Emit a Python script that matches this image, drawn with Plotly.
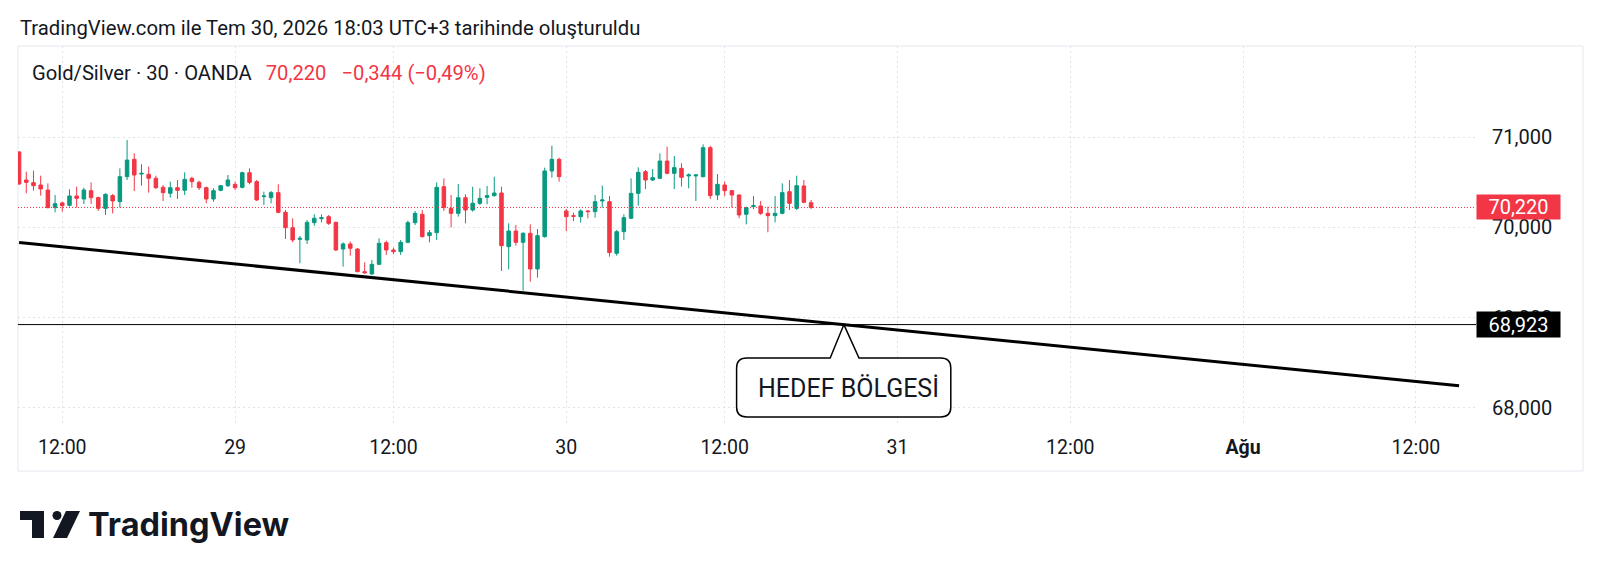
import pandas as pd
import plotly.graph_objects as go

# ---- Gold/Silver ratio, 30-minute bars (OANDA) ----
SESSIONS = [
    ("2026-07-28 09:00", "2026-07-28 23:30"),
    ("2026-07-29 01:00", "2026-07-29 23:30"),
    ("2026-07-30 01:00", "2026-07-30 18:00"),
]

OPEN = [70.835, 70.524, 70.495, 70.469, 70.413, 70.218, 70.270, 70.244, 70.347, 70.314,
        70.406, 70.329, 70.210, 70.351, 70.284, 70.561, 70.753, 70.590, 70.587, 70.543,
        70.443, 70.377, 70.439, 70.410, 70.543, 70.498, 70.439, 70.314, 70.410, 70.461,
        70.476, 70.443, 70.605, 70.506, 70.340, 70.329, 70.384, 70.166, 69.996, 69.867,
        69.860, 70.052, 70.096, 70.118, 70.055, 69.760, 69.816, 69.760, 69.509, 69.484,
        69.590, 69.830, 69.749, 69.731, 69.834, 70.052, 70.144, 69.908, 69.941, 70.450,
        70.210, 70.155, 70.328, 70.192, 70.266, 70.332, 70.351, 70.380, 69.786, 69.959,
        69.834, 69.934, 69.539, 69.897, 70.624, 70.753, 70.181, 70.129, 70.118, 70.181,
        70.174, 70.292, 70.284, 69.712, 69.952, 70.100, 70.376, 70.616, 70.524, 70.543,
        70.734, 70.598, 70.653, 70.569, 70.569, 70.561, 70.882, 70.358, 70.469, 70.406,
        70.358, 70.144, 70.229, 70.236, 70.155, 70.129, 70.155, 70.395, 70.210, 70.458,
        70.273]
HIGH = [70.840, 70.616, 70.627, 70.572, 70.487, 70.358, 70.284, 70.421, 70.450, 70.439,
        70.498, 70.340, 70.377, 70.369, 70.653, 70.967, 70.819, 70.698, 70.672, 70.572,
        70.469, 70.506, 70.524, 70.609, 70.561, 70.517, 70.450, 70.432, 70.469, 70.579,
        70.506, 70.616, 70.653, 70.524, 70.395, 70.402, 70.476, 70.192, 70.100, 69.904,
        70.081, 70.144, 70.144, 70.137, 70.063, 69.834, 69.842, 69.768, 69.613, 69.638,
        69.878, 69.853, 69.775, 69.860, 70.074, 70.181, 70.192, 69.970, 70.498, 70.542,
        70.358, 70.480, 70.365, 70.450, 70.432, 70.458, 70.561, 70.450, 70.044, 70.026,
        69.945, 70.033, 69.981, 70.661, 70.904, 70.771, 70.203, 70.162, 70.199, 70.192,
        70.358, 70.461, 70.347, 69.970, 70.144, 70.542, 70.664, 70.635, 70.646, 70.819,
        70.893, 70.790, 70.709, 70.598, 70.587, 70.919, 70.904, 70.590, 70.506, 70.413,
        70.365, 70.229, 70.347, 70.292, 70.229, 70.347, 70.487, 70.524, 70.572, 70.524,
        70.303]
LOW = [70.470, 70.377, 70.406, 70.351, 70.210, 70.166, 70.174, 70.229, 70.218, 70.258,
       70.258, 70.181, 70.137, 70.155, 70.218, 70.524, 70.402, 70.461, 70.384, 70.425,
       70.292, 70.329, 70.314, 70.358, 70.439, 70.413, 70.266, 70.284, 70.399, 70.447,
       70.413, 70.432, 70.476, 70.292, 70.247, 70.266, 70.155, 69.871, 69.834, 69.602,
       69.816, 70.018, 70.055, 70.026, 69.738, 69.565, 69.686, 69.502, 69.484, 69.472,
       69.583, 69.694, 69.701, 69.694, 69.823, 70.026, 69.886, 69.834, 69.860, 70.181,
       69.999, 70.118, 70.044, 70.174, 70.247, 70.255, 70.340, 69.517, 69.535, 69.797,
       69.299, 69.398, 69.443, 69.886, 70.550, 70.506, 69.959, 70.070, 70.052, 70.100,
       70.107, 70.218, 69.675, 69.686, 69.860, 70.092, 70.240, 70.424, 70.513, 70.535,
       70.587, 70.424, 70.450, 70.432, 70.292, 70.553, 70.314, 70.303, 70.347, 70.218,
       70.100, 70.033, 70.203, 70.137, 69.945, 70.055, 70.144, 70.192, 70.192, 70.266,
       70.203]
CLOSE = [70.480, 70.498, 70.461, 70.425, 70.218, 70.262, 70.240, 70.347, 70.321, 70.413,
         70.329, 70.210, 70.365, 70.292, 70.561, 70.745, 70.579, 70.598, 70.543, 70.439,
         70.384, 70.439, 70.410, 70.531, 70.506, 70.439, 70.314, 70.406, 70.461, 70.524,
         70.439, 70.605, 70.498, 70.303, 70.347, 70.384, 70.166, 69.996, 69.860, 69.878,
         70.055, 70.100, 70.107, 70.044, 69.749, 69.816, 69.768, 69.509, 69.498, 69.590,
         69.823, 69.749, 69.731, 69.834, 70.052, 70.155, 69.897, 69.941, 70.443, 70.218,
         70.155, 70.328, 70.192, 70.266, 70.321, 70.351, 70.380, 69.797, 69.959, 69.834,
         69.934, 69.539, 69.908, 70.624, 70.753, 70.561, 70.118, 70.122, 70.181, 70.174,
         70.284, 70.303, 69.720, 69.952, 70.107, 70.376, 70.609, 70.524, 70.550, 70.734,
         70.598, 70.661, 70.554, 70.580, 70.580, 70.882, 70.351, 70.476, 70.406, 70.358,
         70.137, 70.218, 70.240, 70.155, 70.129, 70.155, 70.384, 70.266, 70.461, 70.277,
         70.220]
PREV_CLOSE = 70.564

# time-scale labels
TICK_TIMES = ["2026-07-28 12:00", "2026-07-29 01:00", "2026-07-29 12:00", "2026-07-30 01:00",
              "2026-07-30 12:00", "2026-07-31 00:00", "2026-07-31 12:00", "2026-08-01 00:00",
              "2026-08-01 12:00"]
TICK_TEXT = ["12:00", "29", "12:00", "30", "12:00", "31", "12:00", "<b>Ağu</b>", "12:00"]
PRICE_TICKS = [68.0, 69.0, 70.0, 71.0]

# drawings
TREND = [("2026-07-28 09:00", 69.832), ("2026-08-01 15:00", 68.245)]
TARGET_LEVEL = 68.923
CALLOUT_TEXT = "HEDEF BÖLGESİ"

GREEN = "#089981"
RED = "#F23645"
INK = "#131722"
GRID = "#E0E3EA"
FONT = "Roboto"

# ---- bar index axis (bars are evenly spaced, session breaks skipped) ----
bar_times = pd.DatetimeIndex([])
for start, end in SESSIONS:
    bar_times = bar_times.append(pd.date_range(start, end, freq="30min"))
STEP = pd.Timedelta("30min")


def slot(ts):
    t = pd.Timestamp(ts)
    if t <= bar_times[-1]:
        return float(bar_times.searchsorted(t))
    return (len(bar_times) - 1) + (t - bar_times[-1]) / STEP


xs = list(range(len(bar_times)))

# ---- pixel frame of the pane ----
W, H = 1600, 573
PL, PR, PT, PB = 18, 1476, 46, 425


def px(x):
    return (x - PL) / (PR - PL)


def py(y):
    return (PB - y) / (PB - PT)


def fmt(v, nd=3):
    s = f"{abs(v):.{nd}f}".replace(".", ",")
    return ("\u2212" + s) if v < 0 else s


fig = go.Figure()

fig.add_trace(go.Candlestick(
    x=xs, open=OPEN, high=HIGH, low=LOW, close=CLOSE,
    increasing=dict(line=dict(color=GREEN, width=1), fillcolor=GREEN),
    decreasing=dict(line=dict(color=RED, width=1), fillcolor=RED),
    whiskerwidth=0, hoverinfo="skip", showlegend=False,
))

# trend line
tx = [slot(t) for t, _ in TREND]
ty = [p for _, p in TREND]
fig.add_trace(go.Scatter(x=tx, y=ty, mode="lines",
                         line=dict(color="#000000", width=3),
                         hoverinfo="skip", showlegend=False))

last = CLOSE[-1]
change = last - PREV_CLOSE
pct = change / PREV_CLOSE * 100

shapes = []
# last price dotted line
shapes.append(dict(type="line", xref="paper", yref="y", x0=0, x1=1, y0=last, y1=last,
                   line=dict(color=RED, width=1, dash="1px,2px"), layer="above"))
# target horizontal level
shapes.append(dict(type="line", xref="paper", yref="y", x0=0, x1=1,
                   y0=TARGET_LEVEL, y1=TARGET_LEVEL,
                   line=dict(color="#000000", width=1), layer="above"))

# speech bubble pointing at the trend line / level crossing
slope = (ty[1] - ty[0]) / (tx[1] - tx[0])
tip_x = tx[0] + (TARGET_LEVEL - ty[0]) / slope
tip_y = TARGET_LEVEL
left, right = tip_x - 14.9, tip_x + 14.85
top, bottom = tip_y - 0.370, tip_y - 1.024
bl, br = tip_x - 1.9, tip_x + 2.1
rx, ry = 1.4, 0.11
path = (f"M{tip_x},{tip_y} L{br},{top} H{right - rx} Q{right},{top} {right},{top - ry} "
        f"V{bottom + ry} Q{right},{bottom} {right - rx},{bottom} H{left + rx} "
        f"Q{left},{bottom} {left},{bottom + ry} V{top - ry} Q{left},{top} {left + rx},{top} "
        f"H{bl} Z")
shapes.append(dict(type="path", path=path, xref="x", yref="y", fillcolor="#FFFFFF",
                   line=dict(color="#000000", width=1.5), layer="above"))

# pane border
shapes.append(dict(type="rect", xref="paper", yref="paper", x0=px(18), x1=px(1583),
                   y0=py(471), y1=py(46), line=dict(color="#E6E8EE", width=1),
                   fillcolor="rgba(0,0,0,0)", layer="below"))

# TradingView logo mark
def ppath(points):
    return "M" + " L".join(f"{px(x)},{py(y)}" for x, y in points) + " Z"


shapes.append(dict(type="path", xref="paper", yref="paper",
                   path=ppath([(20, 511), (44, 511), (44, 538), (32, 538), (32, 520), (20, 520)]),
                   fillcolor=INK, line=dict(width=0)))
shapes.append(dict(type="circle", xref="paper", yref="paper",
                   x0=px(52.5), x1=px(61.5), y0=py(520), y1=py(511),
                   fillcolor=INK, line=dict(width=0)))
shapes.append(dict(type="path", xref="paper", yref="paper",
                   path=ppath([(66, 511), (80, 511), (67, 538), (53, 538)]),
                   fillcolor=INK, line=dict(width=0)))

annotations = []
annotations.append(dict(
    xref="paper", yref="paper", x=px(18), y=py(28), xanchor="left", yanchor="middle",
    text="TradingView.com ile Tem 30, 2026 18:03 UTC+3 tarihinde oluşturuldu",
    showarrow=False, font=dict(family=FONT, size=20.3, color=INK)))
annotations.append(dict(
    xref="paper", yref="paper", x=px(30), y=py(73), xanchor="left", yanchor="middle",
    text=("Gold/Silver · 30 · OANDA\u00a0\u00a0\u2009"
          f"<span style='color:{RED}'>{fmt(last)}\u00a0\u00a0\u00a0{fmt(change)} ({fmt(pct, 2)}%)</span>"),
    showarrow=False, font=dict(family=FONT, size=20.2, color=INK)))
# price-scale badges
annotations.append(dict(
    xref="paper", yref="y", x=1, y=last, xanchor="left", yanchor="middle",
    text=fmt(last), showarrow=False, bgcolor=RED, width=83, height=24, borderpad=0,
    font=dict(family=FONT, size=20, color="#FFFFFF")))
annotations.append(dict(
    xref="paper", yref="y", x=1, y=TARGET_LEVEL, xanchor="left", yanchor="middle",
    text=fmt(TARGET_LEVEL), showarrow=False, bgcolor="#000000", width=83, height=25,
    borderpad=0, font=dict(family=FONT, size=20, color="#FFFFFF")))
# callout text
annotations.append(dict(
    xref="x", yref="y", x=tip_x + 0.6, y=(top + bottom) / 2 - 0.015,
    text=CALLOUT_TEXT, showarrow=False, xanchor="center", yanchor="middle",
    font=dict(family=FONT, size=25, color=INK)))
# wordmark
annotations.append(dict(
    xref="paper", yref="paper", x=px(86), y=py(524.5), xanchor="left", yanchor="middle",
    text="TradingView", showarrow=False,
    font=dict(family="Inter", size=32.5, color=INK, weight=700)))

fig.update_layout(
    width=W, height=H,
    margin=dict(l=PL, r=W - PR, t=PT, b=H - PB),
    paper_bgcolor="#FFFFFF", plot_bgcolor="#FFFFFF",
    separators=",.",
    showlegend=False,
    shapes=shapes, annotations=annotations,
    xaxis=dict(
        range=[-0.15, 202.35], rangeslider=dict(visible=False),
        tickvals=[slot(t) for t in TICK_TIMES], ticktext=TICK_TEXT,
        showgrid=True, gridcolor=GRID, griddash="2px,3px", gridwidth=1,
        zeroline=False, showline=False,
        ticks="outside", ticklen=5, tickcolor="rgba(0,0,0,0)",
        tickfont=dict(family=FONT, size=19.5, color=INK),
    ),
    yaxis=dict(
        side="right", range=[67.811, 72.008],
        tickvals=PRICE_TICKS, tickformat=".3f",
        showgrid=True, gridcolor=GRID, griddash="2px,3px", gridwidth=1,
        zeroline=False, showline=False,
        ticks="outside", ticklen=11, tickcolor="rgba(0,0,0,0)",
        tickfont=dict(family=FONT, size=20, color=INK),
    ),
)

fig.write_html("out.html")
